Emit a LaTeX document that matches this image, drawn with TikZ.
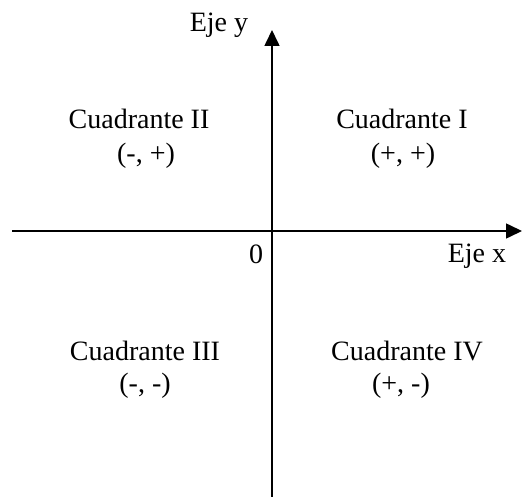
\documentclass[tikz,border=0pt]{standalone}
\usepackage{fontspec}
\setmainfont{Liberation Serif}
\usetikzlibrary{arrows.meta}
\begin{document}
\begin{tikzpicture}[x=1pt,y=-1pt,
  lbl/.style={anchor=base,inner sep=0pt,font=\fontsize{28}{33}\selectfont},
  axis/.style={line width=1.6pt,-{Triangle[length=16pt,width=15pt]}}]
\useasboundingbox (0,0) rectangle (522,497);
% axes
\coordinate (xl) at (12,231);
\coordinate (xr) at (522,231);
\coordinate (yb) at (272,497);
\coordinate (yt) at (272,30);
\draw[axis] (xl) -- (xr);
\draw[axis] (yb) -- (yt);
% axis labels
\node[lbl] (ejey) at (219,32) {Eje y};
\node[lbl] (ejex) at (477,262) {Eje x};
\node[lbl] (cero) at (256,263) {0};
% quadrants
\node[lbl] (q2) at (139,129) {Cuadrante II};
\node[lbl] (q2s) at (146,163) {(-, +)};
\node[lbl] (q1) at (402,129) {Cuadrante I};
\node[lbl] (q1s) at (403,163) {(+, +)};
\node[lbl] (q3) at (145,360) {Cuadrante III};
\node[lbl] (q3s) at (145,392) {(-, -)};
\node[lbl] (q4) at (407,360) {Cuadrante IV};
\node[lbl] (q4s) at (401,392) {(+, -)};
\end{tikzpicture}
\end{document}
